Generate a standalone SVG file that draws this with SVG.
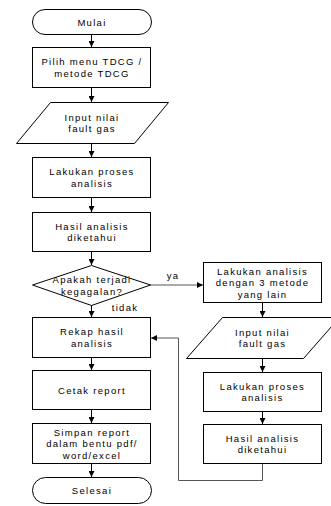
<svg xmlns="http://www.w3.org/2000/svg" width="331" height="506" viewBox="0 0 331 506">
<defs>
<marker id="ah" viewBox="0 0 6 6" refX="6" refY="3" markerWidth="6" markerHeight="6" markerUnits="userSpaceOnUse" orient="auto">
<path d="M0,0 L6,3 L0,6 Z" fill="#000"/>
</marker>
</defs>
<style>
.s{fill:#fff;stroke:#000;stroke-width:1}
.t{font-family:"Liberation Sans",Arial,sans-serif;font-size:9.5px;letter-spacing:1.3px;fill:#000;text-anchor:middle}
.c{fill:none;stroke:#000;stroke-width:1}
.g{fill:none;stroke:#555;stroke-width:1}
</style>
<rect width="331" height="506" fill="#fff"/>
<g id="connectors">
<line class="c" x1="91.5" y1="35" x2="91.5" y2="47" marker-end="url(#ah)"/>
<line class="c" x1="91.5" y1="88" x2="91.5" y2="102" marker-end="url(#ah)"/>
<line class="c" x1="91.5" y1="144" x2="91.5" y2="157" marker-end="url(#ah)"/>
<line class="c" x1="91.5" y1="198" x2="91.5" y2="212" marker-end="url(#ah)"/>
<line class="c" x1="91.5" y1="252" x2="91.5" y2="265" marker-end="url(#ah)"/>
<line class="c" x1="91.5" y1="305" x2="91.5" y2="317" marker-end="url(#ah)"/>
<line class="c" x1="91.5" y1="358" x2="91.5" y2="370" marker-end="url(#ah)"/>
<line class="c" x1="91.5" y1="410" x2="91.5" y2="423" marker-end="url(#ah)"/>
<line class="c" x1="91.5" y1="464" x2="91.5" y2="477" marker-end="url(#ah)"/>
<line class="g" x1="150" y1="285" x2="203" y2="285" marker-end="url(#ah)"/>
<line class="c" x1="262.5" y1="303" x2="262.5" y2="317" marker-end="url(#ah)"/>
<line class="c" x1="262.5" y1="358" x2="262.5" y2="372" marker-end="url(#ah)"/>
<line class="c" x1="262.5" y1="412" x2="262.5" y2="424" marker-end="url(#ah)"/>
<polyline class="g" points="262.5,464 262.5,480.5 178.5,480.5 178.5,338 151,338" marker-end="url(#ah)"/>
<text class="t" x="173" y="279">ya</text>
<text class="t" x="125" y="311">tidak</text>
</g>
<g id="mulai">
<rect class="s" x="32.5" y="9.5" width="119" height="25" rx="12.5" ry="12.5"/>
<text class="t" x="92" y="25.5">Mulai</text>
</g>
<g id="pilih">
<rect class="s" x="32.5" y="47.5" width="118" height="40"/>
<text class="t" x="92" y="65">Pilih menu TDCG /</text>
<text class="t" x="92" y="76.5">metode TDCG</text>
</g>
<g id="input1">
<polygon class="s" points="50.5,102.5 168.5,102.5 134.5,143.5 16.5,143.5"/>
<text class="t" x="92" y="120.5">Input nilai</text>
<text class="t" x="92" y="132">fault gas</text>
</g>
<g id="proses1">
<rect class="s" x="32.5" y="157.5" width="118" height="40"/>
<text class="t" x="92" y="175">Lakukan proses</text>
<text class="t" x="92" y="186.5">analisis</text>
</g>
<g id="hasil1">
<rect class="s" x="32.5" y="212.5" width="118" height="39"/>
<text class="t" x="92" y="229.5">Hasil analisis</text>
<text class="t" x="92" y="241">diketahui</text>
</g>
<g id="keputusan">
<polygon class="s" points="91.5,265.5 150.5,285 91.5,305.5 32.5,285"/>
<text class="t" x="92" y="283">Apakah terjadi</text>
<text class="t" x="92" y="294.5">kegagalan?</text>
</g>
<g id="rekap">
<rect class="s" x="32.5" y="317.5" width="118" height="40"/>
<text class="t" x="92" y="335">Rekap hasil</text>
<text class="t" x="92" y="346.5">analisis</text>
</g>
<g id="cetak">
<rect class="s" x="32.5" y="370.5" width="118" height="39"/>
<text class="t" x="92" y="393.5">Cetak report</text>
</g>
<g id="simpan">
<rect class="s" x="32.5" y="423.5" width="118" height="40"/>
<text class="t" x="92" y="435.5">Simpan report</text>
<text class="t" x="92" y="447">dalam bentu pdf/</text>
<text class="t" x="92" y="458.5">word/excel</text>
</g>
<g id="selesai">
<rect class="s" x="32.5" y="477.5" width="119" height="26" rx="13" ry="13"/>
<text class="t" x="92" y="494">Selesai</text>
</g>
<g id="analisis3">
<rect class="s" x="203.5" y="262.5" width="118" height="40"/>
<text class="t" x="262.5" y="274.5">Lakukan analisis</text>
<text class="t" x="262.5" y="286">dengan 3 metode</text>
<text class="t" x="262.5" y="297.5">yang lain</text>
</g>
<g id="input2">
<polygon class="s" points="222.5,317.5 339.5,317.5 303.5,358.5 186.5,358.5"/>
<text class="t" x="262.5" y="335.5">Input nilai</text>
<text class="t" x="262.5" y="347">fault gas</text>
</g>
<g id="proses2">
<rect class="s" x="203.5" y="372.5" width="118" height="39"/>
<text class="t" x="262.5" y="389.5">Lakukan proses</text>
<text class="t" x="262.5" y="401">analisis</text>
</g>
<g id="hasil2">
<rect class="s" x="203.5" y="424.5" width="118" height="39"/>
<text class="t" x="262.5" y="441.5">Hasil analisis</text>
<text class="t" x="262.5" y="453">diketahui</text>
</g>
</svg>
